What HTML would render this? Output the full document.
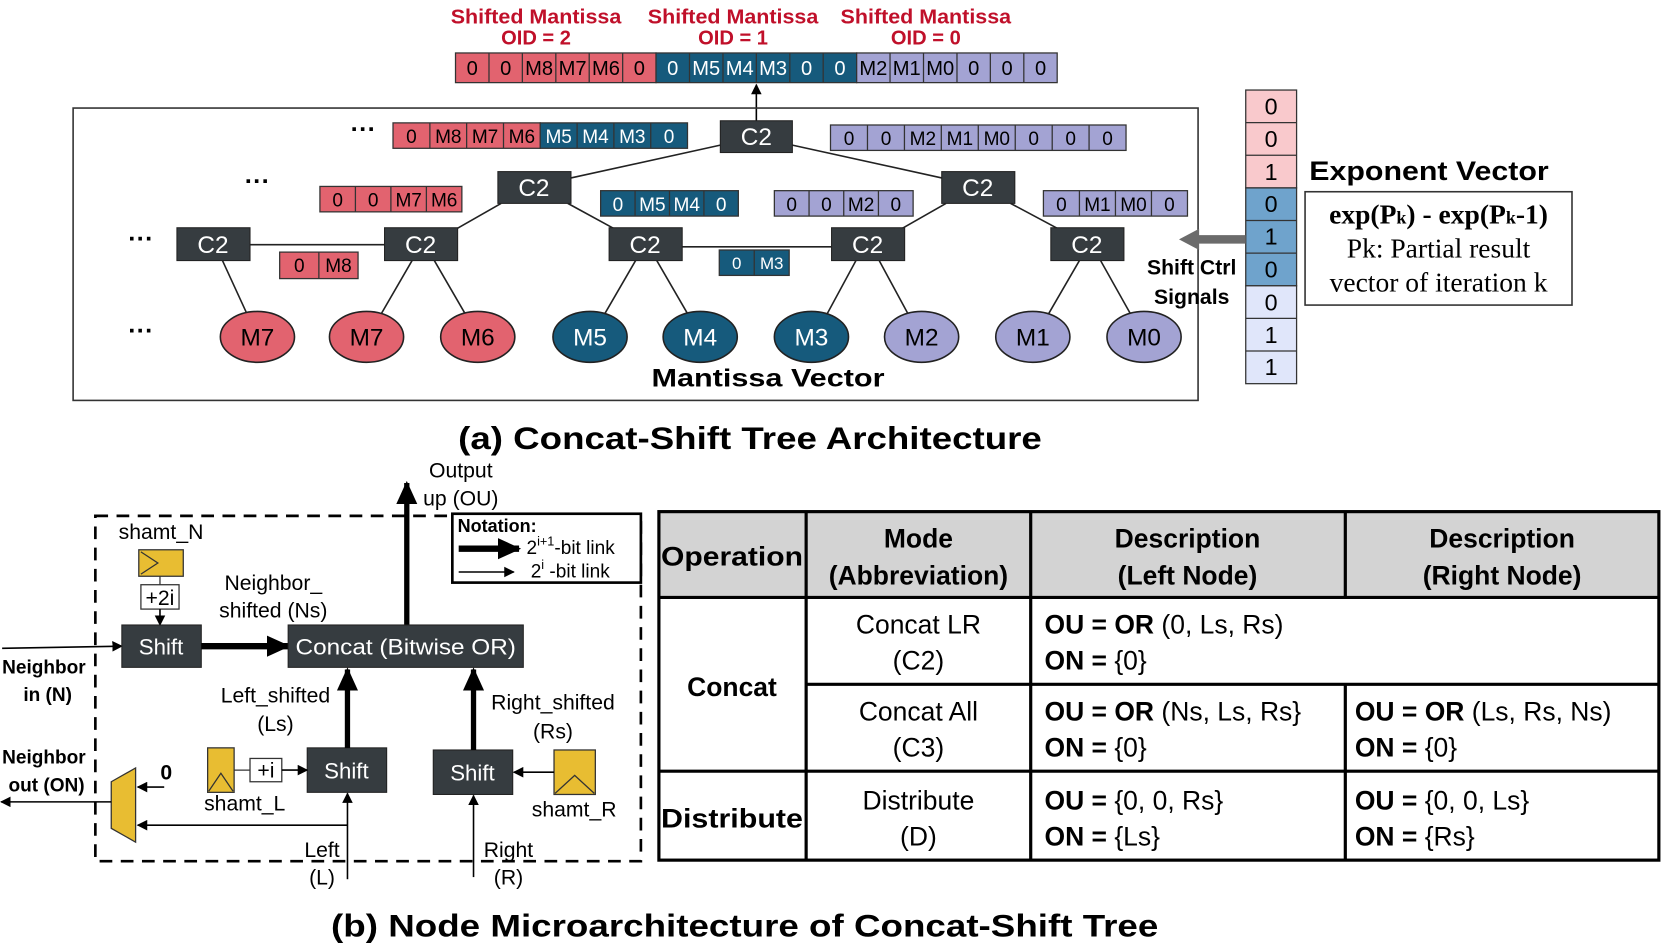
<!DOCTYPE html>
<html><head><meta charset="utf-8"><style>
html,body{margin:0;padding:0;background:#fff;}
svg{display:block;}
text{font-family:"Liberation Sans",Arial,sans-serif;}
.serif{font-family:"Liberation Serif","Times New Roman",serif;}
</style></head><body>
<svg width="1661" height="947" viewBox="0 0 1568 894" xmlns="http://www.w3.org/2000/svg">
<defs>
<marker id="ah" markerWidth="10" markerHeight="10" refX="9" refY="5" orient="auto" markerUnits="userSpaceOnUse"><path d="M0,0 L10,5 L0,10 z" fill="#000"/></marker>
<marker id="ahb" markerWidth="22" markerHeight="20" refX="20" refY="10" orient="auto" markerUnits="userSpaceOnUse"><path d="M0,0 L22,10 L0,20 z" fill="#000"/></marker>
</defs>

<!-- Top labels -->
<g fill="#c0102a" font-weight="bold" font-size="19" text-anchor="middle">
<text x="506" y="22" textLength="161" lengthAdjust="spacingAndGlyphs">Shifted Mantissa</text><text x="506" y="42">OID  = 2</text>
<text x="692" y="22" textLength="161" lengthAdjust="spacingAndGlyphs">Shifted Mantissa</text><text x="692" y="42">OID  = 1</text>
<text x="874" y="22" textLength="161" lengthAdjust="spacingAndGlyphs">Shifted Mantissa</text><text x="874" y="42">OID  = 0</text>
</g>

<!-- Top vector -->
<g stroke="#333" stroke-width="1.2" font-size="19" text-anchor="middle">
<rect x="430" y="50" width="189.3" height="28" fill="#e2636f"/>
<rect x="619.3" y="50" width="189.4" height="28" fill="#165a7c"/>
<rect x="808.7" y="50" width="189.3" height="28" fill="#a3a3d3"/>
<path d="M461.6,50v28M493.1,50v28M524.7,50v28M556.2,50v28M587.8,50v28M650.9,50v28M682.5,50v28M714,50v28M745.6,50v28M777.1,50v28M840.2,50v28M871.8,50v28M903.4,50v28M934.9,50v28M966.5,50v28"/>
</g>
<g font-size="19" text-anchor="middle">
<g fill="#000"><text x="445.8" y="71">0</text><text x="477.4" y="71">0</text><text x="508.9" y="71">M8</text><text x="540.5" y="71">M7</text><text x="572" y="71">M6</text><text x="603.6" y="71">0</text></g>
<g fill="#fff"><text x="635.1" y="71">0</text><text x="666.7" y="71">M5</text><text x="698.3" y="71">M4</text><text x="729.8" y="71">M3</text><text x="761.4" y="71">0</text><text x="792.9" y="71">0</text></g>
<g fill="#000"><text x="824.5" y="71">M2</text><text x="856" y="71">M1</text><text x="887.6" y="71">M0</text><text x="919.2" y="71">0</text><text x="950.7" y="71">0</text><text x="982.3" y="71">0</text></g>
</g>
<line x1="714" y1="116" x2="714" y2="80" stroke="#000" stroke-width="1.5" marker-end="url(#ah)"/>

<!-- Main box -->
<rect x="69" y="102" width="1062" height="276" fill="none" stroke="#333" stroke-width="1.5"/>

<!-- tree edges -->
<g stroke="#222" stroke-width="1.5">
<line x1="680" y1="137" x2="539" y2="168"/><line x1="748" y1="137" x2="889" y2="168"/>
<line x1="473" y1="192" x2="431" y2="216"/><line x1="536" y1="192" x2="580" y2="216"/>
<line x1="893" y1="192" x2="851" y2="216"/><line x1="954" y1="192" x2="999" y2="216"/>
<line x1="236" y1="231" x2="363" y2="231"/><line x1="644" y1="233" x2="785" y2="233"/>
<line x1="210" y1="246" x2="233" y2="296"/>
<line x1="389" y1="246" x2="360" y2="296"/><line x1="410" y1="246" x2="439" y2="296"/>
<line x1="600" y1="246" x2="571" y2="296"/><line x1="620" y1="246" x2="649" y2="296"/>
<line x1="808" y1="246" x2="781" y2="296"/><line x1="830" y1="246" x2="857" y2="296"/>
<line x1="1019" y1="246" x2="990" y2="296"/><line x1="1039" y1="246" x2="1067" y2="296"/>
</g>

<!-- C2 nodes -->
<g fill="#363c40" stroke="#222" stroke-width="1">
<rect x="680" y="114" width="68" height="30"/>
<rect x="470" y="162" width="69" height="30"/><rect x="889" y="162" width="69" height="30"/>
<rect x="167" y="215" width="69" height="31"/><rect x="363" y="215" width="69" height="31"/>
<rect x="575" y="215" width="69" height="31"/><rect x="785" y="215" width="69" height="31"/>
<rect x="992" y="215" width="69" height="31"/>
</g>
<g fill="#fff" font-size="23" text-anchor="middle">
<text x="714" y="137">C2</text><text x="504" y="185">C2</text><text x="923" y="185">C2</text>
<text x="201" y="239">C2</text><text x="397" y="239">C2</text><text x="609" y="239">C2</text>
<text x="819" y="239">C2</text><text x="1026" y="239">C2</text>
</g>

<!-- vectors inside -->
<g stroke="#333" stroke-width="1.2">
<rect x="371" y="116" width="139" height="24" fill="#e2636f"/><rect x="510" y="116" width="139" height="24" fill="#165a7c"/>
<rect x="784" y="118" width="279" height="24" fill="#a3a3d3"/>
<rect x="302" y="176" width="134" height="24" fill="#e2636f"/>
<rect x="567" y="180" width="130" height="24" fill="#165a7c"/>
<rect x="731" y="180" width="131" height="24" fill="#a3a3d3"/>
<rect x="985" y="180" width="136" height="24" fill="#a3a3d3"/>
<rect x="264" y="238" width="74" height="25" fill="#e2636f"/>
<rect x="679" y="236" width="66" height="24" fill="#165a7c"/>
<path d="M405.8,116v24M440.5,116v24M475.3,116v24M544.8,116v24M579.5,116v24M614.3,116v24
M818.9,118v24M853.8,118v24M888.6,118v24M923.5,118v24M958.4,118v24M993.3,118v24M1028.1,118v24
M335.5,176v24M369,176v24M402.5,176v24
M599.5,180v24M632,180v24M664.5,180v24
M763.75,180v24M796.5,180v24M829.25,180v24
M1019,180v24M1053,180v24M1087,180v24
M301,238v25M712,236v24"/>
</g>
<g font-size="18" text-anchor="middle">
<g fill="#000"><text x="388.4" y="135">0</text><text x="423.2" y="135">M8</text><text x="457.9" y="135">M7</text><text x="492.6" y="135">M6</text></g>
<g fill="#fff"><text x="527.4" y="135">M5</text><text x="562.2" y="135">M4</text><text x="596.9" y="135">M3</text><text x="631.6" y="135">0</text></g>
<g fill="#000"><text x="801.5" y="137">0</text><text x="836.4" y="137">0</text><text x="871.2" y="137">M2</text><text x="906.1" y="137">M1</text><text x="941" y="137">M0</text><text x="975.8" y="137">0</text><text x="1010.7" y="137">0</text><text x="1045.6" y="137">0</text></g>
<g fill="#000"><text x="318.8" y="195">0</text><text x="352.3" y="195">0</text><text x="385.8" y="195">M7</text><text x="419.3" y="195">M6</text></g>
<g fill="#fff"><text x="583.3" y="199">0</text><text x="615.8" y="199">M5</text><text x="648.3" y="199">M4</text><text x="680.8" y="199">0</text></g>
<g fill="#000"><text x="747.4" y="199">0</text><text x="780.1" y="199">0</text><text x="812.9" y="199">M2</text><text x="845.6" y="199">0</text>
<text x="1002" y="199">0</text><text x="1036" y="199">M1</text><text x="1070" y="199">M0</text><text x="1104" y="199">0</text>
<text x="282.5" y="257">0</text><text x="319.5" y="257">M8</text></g>
<g fill="#fff" font-size="16"><text x="695.5" y="254">0</text><text x="728.5" y="254">M3</text></g>
</g>

<!-- dots -->
<g font-size="24" font-weight="bold" text-anchor="middle">
<text x="343" y="130">···</text><text x="243" y="179">···</text><text x="133" y="233">···</text><text x="133" y="320">···</text>
</g>

<!-- leaves -->
<g stroke="#222" stroke-width="1.5">
<ellipse cx="243" cy="318" rx="35" ry="24" fill="#e2636f"/><ellipse cx="346" cy="318" rx="35" ry="24" fill="#e2636f"/><ellipse cx="451" cy="318" rx="35" ry="24" fill="#e2636f"/>
<ellipse cx="557" cy="318" rx="35" ry="24" fill="#165a7c"/><ellipse cx="661" cy="318" rx="35" ry="24" fill="#165a7c"/><ellipse cx="766" cy="318" rx="35" ry="24" fill="#165a7c"/>
<ellipse cx="870" cy="318" rx="35" ry="24" fill="#a3a3d3"/><ellipse cx="975" cy="318" rx="35" ry="24" fill="#a3a3d3"/><ellipse cx="1080" cy="318" rx="35" ry="24" fill="#a3a3d3"/>
</g>
<g font-size="23" text-anchor="middle">
<g fill="#000"><text x="243" y="326">M7</text><text x="346" y="326">M7</text><text x="451" y="326">M6</text></g>
<g fill="#fff"><text x="557" y="326">M5</text><text x="661" y="326">M4</text><text x="766" y="326">M3</text></g>
<g fill="#000"><text x="870" y="326">M2</text><text x="975" y="326">M1</text><text x="1080" y="326">M0</text></g>
</g>
<text x="725" y="365" font-size="24" font-weight="bold" text-anchor="middle" textLength="220" lengthAdjust="spacingAndGlyphs">Mantissa Vector</text>

<!-- Exponent vector -->
<g stroke="#333" stroke-width="1.2">
<rect x="1176" y="85" width="48" height="92.4" fill="#f9c9cc"/>
<rect x="1176" y="177.4" width="48" height="92.4" fill="#6fa3cc"/>
<rect x="1176" y="269.8" width="48" height="92.4" fill="#e0e6fa"/>
<path d="M1176,115.8h48M1176,146.6h48M1176,208.2h48M1176,239h48M1176,300.6h48M1176,331.4h48"/>
</g>
<g font-size="22" text-anchor="middle">
<text x="1200" y="108">0</text><text x="1200" y="139">0</text><text x="1200" y="170">1</text>
<text x="1200" y="200">0</text><text x="1200" y="231">1</text><text x="1200" y="262">0</text>
<text x="1200" y="293">0</text><text x="1200" y="324">1</text><text x="1200" y="354">1</text>
</g>
<path d="M1176,222 L1132,222 L1132,216 L1113,226 L1132,236 L1132,230 L1176,230 z" fill="#6b6b6b"/>
<g font-size="20" font-weight="bold" text-anchor="middle"><text x="1125" y="259">Shift Ctrl</text><text x="1125" y="287">Signals</text></g>
<text x="1236" y="170" font-size="25" font-weight="bold" textLength="226" lengthAdjust="spacingAndGlyphs">Exponent Vector</text>
<rect x="1232" y="181" width="252" height="107" fill="#fff" stroke="#333" stroke-width="1.5"/>
<g class="serif" font-size="26" text-anchor="middle">
<text x="1358" y="211" font-weight="bold" class="serif">exp(P<tspan font-size="17">k</tspan>) - exp(P<tspan font-size="17">k</tspan>-1)</text>
<text x="1358" y="243" class="serif">Pk: Partial result</text>
<text x="1358" y="275" class="serif">vector of iteration k</text>
</g>

<text x="708" y="424" font-size="30" font-weight="bold" text-anchor="middle" textLength="551" lengthAdjust="spacingAndGlyphs">(a) Concat-Shift Tree Architecture</text>

<!-- Part b -->
<rect x="90" y="487" width="515" height="326" fill="none" stroke="#000" stroke-width="2.5" stroke-dasharray="12,8"/>
<rect x="427" y="485" width="178" height="65" fill="#fff" stroke="#000" stroke-width="2.5"/>
<text x="432" y="502" font-size="17" font-weight="bold">Notation:</text>
<line x1="433" y1="518" x2="490" y2="518" stroke="#000" stroke-width="6" marker-end="url(#ahb)"/>
<text x="497" y="523" font-size="18">2<tspan font-size="12" dy="-8">i+1</tspan><tspan dy="8">-bit link</tspan></text>
<line x1="433" y1="540" x2="485" y2="540" stroke="#000" stroke-width="1.5" marker-end="url(#ah)"/>
<text x="501" y="545" font-size="18">2<tspan font-size="12" dy="-8">i</tspan><tspan dy="8"> -bit link</tspan></text>

<!-- output -->
<line x1="384" y1="590" x2="384" y2="456" stroke="#000" stroke-width="5" marker-end="url(#ahb)"/>
<g font-size="20" text-anchor="middle"><text x="435" y="451">Output</text><text x="435" y="477">up (OU)</text></g>

<!-- shamt_N -->
<text x="152" y="509" font-size="20" text-anchor="middle">shamt_N</text>
<rect x="131" y="519" width="42" height="25" fill="#e8bd32" stroke="#333" stroke-width="1.2"/>
<path d="M133,521 L149,531.5 L133,542" fill="none" stroke="#333" stroke-width="1.2"/>
<line x1="151" y1="544" x2="151" y2="552" stroke="#333" stroke-width="1.2"/>
<rect x="133" y="552" width="36" height="23" fill="#fff" stroke="#333" stroke-width="1.2"/>
<text x="151" y="571" font-size="20" text-anchor="middle">+2i</text>
<line x1="151" y1="575" x2="151" y2="590" stroke="#000" stroke-width="1.5" marker-end="url(#ah)"/>

<!-- Shift N & concat -->
<line x1="2" y1="612" x2="115" y2="610" stroke="#000" stroke-width="1.5" marker-end="url(#ah)"/>
<rect x="115" y="590" width="75" height="40" fill="#363c40" stroke="#222"/>
<text x="152" y="618" font-size="21" fill="#fff" text-anchor="middle">Shift</text>
<line x1="190" y1="610" x2="272" y2="610" stroke="#000" stroke-width="6" marker-end="url(#ahb)"/>
<rect x="272" y="590" width="222" height="40" fill="#363c40" stroke="#222"/>
<text x="383" y="618" font-size="21" fill="#fff" text-anchor="middle" textLength="208" lengthAdjust="spacingAndGlyphs">Concat (Bitwise OR)</text>
<g font-size="20" text-anchor="middle"><text x="258" y="557">Neighbor_</text><text x="258" y="583">shifted (Ns)</text></g>
<g font-size="18" font-weight="bold"><text x="2" y="636">Neighbor</text><text x="22" y="662">in (N)</text>
<text x="2" y="721">Neighbor</text><text x="8" y="747">out (ON)</text></g>

<!-- Left shift -->
<rect x="290" y="706" width="75" height="42" fill="#363c40" stroke="#222"/>
<text x="327" y="735" font-size="21" fill="#fff" text-anchor="middle">Shift</text>
<line x1="328" y1="706" x2="328" y2="632" stroke="#000" stroke-width="5" marker-end="url(#ahb)"/>
<g font-size="20" text-anchor="middle"><text x="260" y="663">Left_shifted</text><text x="260" y="690">(Ls)</text></g>
<rect x="196" y="706" width="25" height="42" fill="#e8bd32" stroke="#333" stroke-width="1.2"/>
<path d="M197,747 L208.5,730 L220,747" fill="none" stroke="#333" stroke-width="1.2"/>
<line x1="221" y1="727" x2="236" y2="727" stroke="#333" stroke-width="1.2"/>
<rect x="236" y="716" width="30" height="22" fill="#fff" stroke="#333" stroke-width="1.2"/>
<text x="251" y="734" font-size="20" text-anchor="middle">+i</text>
<line x1="266" y1="727" x2="290" y2="727" stroke="#000" stroke-width="1.5" marker-end="url(#ah)"/>
<text x="231" y="765" font-size="20" text-anchor="middle">shamt_L</text>

<!-- Right shift -->
<rect x="409" y="708" width="75" height="42" fill="#363c40" stroke="#222"/>
<text x="446" y="737" font-size="21" fill="#fff" text-anchor="middle">Shift</text>
<line x1="447" y1="708" x2="447" y2="632" stroke="#000" stroke-width="5" marker-end="url(#ahb)"/>
<g font-size="20" text-anchor="middle"><text x="522" y="670">Right_shifted</text><text x="522" y="697">(Rs)</text></g>
<rect x="523" y="708" width="39" height="42" fill="#e8bd32" stroke="#333" stroke-width="1.2"/>
<path d="M524,749 L542.5,732 L561,749" fill="none" stroke="#333" stroke-width="1.2"/>
<line x1="523" y1="729" x2="485" y2="729" stroke="#000" stroke-width="1.5" marker-end="url(#ah)"/>
<text x="542" y="771" font-size="20" text-anchor="middle">shamt_R</text>

<!-- inputs L R -->
<line x1="328" y1="830" x2="328" y2="749" stroke="#000" stroke-width="1.5" marker-end="url(#ah)"/>
<line x1="447" y1="828" x2="447" y2="751" stroke="#000" stroke-width="1.5" marker-end="url(#ah)"/>
<line x1="328" y1="779" x2="130" y2="779" stroke="#000" stroke-width="1.5" marker-end="url(#ah)"/>
<g font-size="20" text-anchor="middle"><text x="304" y="809">Left</text><text x="304" y="835">(L)</text>
<text x="480" y="809">Right</text><text x="480" y="835">(R)</text></g>

<!-- mux -->
<path d="M105,738 L128,725 L128,795 L105,782 z" fill="#e8bd32" stroke="#333" stroke-width="1.2"/>
<line x1="105" y1="757" x2="1" y2="757" stroke="#000" stroke-width="1.5" marker-end="url(#ah)"/>
<line x1="155" y1="743" x2="130" y2="743" stroke="#000" stroke-width="1.5" marker-end="url(#ah)"/>
<text x="157" y="736" font-size="20" font-weight="bold" text-anchor="middle">0</text>

<text x="703" y="884" font-size="30" font-weight="bold" text-anchor="middle" textLength="781" lengthAdjust="spacingAndGlyphs">(b) Node Microarchitecture of Concat-Shift Tree</text>

<!-- Table -->
<rect x="622" y="483" width="944" height="81" fill="#d3d3d3"/>
<g stroke="#000" stroke-width="3" fill="none">
<rect x="622" y="483" width="944" height="329"/>
<line x1="622" y1="564" x2="1566" y2="564"/>
<line x1="761" y1="646" x2="1566" y2="646"/>
<line x1="622" y1="728" x2="1566" y2="728"/>
<line x1="761" y1="483" x2="761" y2="812"/>
<line x1="973" y1="483" x2="973" y2="812"/>
<line x1="1270" y1="483" x2="1270" y2="564"/>
<line x1="1270" y1="646" x2="1270" y2="812"/>
</g>
<g font-size="25" text-anchor="middle" font-weight="bold">
<text x="691" y="534" textLength="134" lengthAdjust="spacingAndGlyphs">Operation</text>
<text x="867" y="517">Mode</text><text x="867" y="552">(Abbreviation)</text>
<text x="1121" y="517">Description</text><text x="1121" y="552">(Left Node)</text>
<text x="1418" y="517">Description</text><text x="1418" y="552">(Right Node)</text>
<text x="691" y="657">Concat</text>
<text x="691" y="781" textLength="134" lengthAdjust="spacingAndGlyphs">Distribute</text>
</g>
<g font-size="25" text-anchor="middle">
<text x="867" y="598">Concat LR</text><text x="867" y="632">(C2)</text>
<text x="867" y="680">Concat All</text><text x="867" y="714">(C3)</text>
<text x="867" y="764">Distribute</text><text x="867" y="798">(D)</text>
</g>
<g font-size="25">
<text x="986" y="598"><tspan font-weight="bold">OU = OR</tspan> (0, Ls, Rs)</text>
<text x="986" y="632"><tspan font-weight="bold">ON =</tspan> {0}</text>
<text x="986" y="680"><tspan font-weight="bold">OU = OR</tspan> (Ns, Ls, Rs}</text>
<text x="986" y="714"><tspan font-weight="bold">ON =</tspan> {0}</text>
<text x="1279" y="680"><tspan font-weight="bold">OU = OR</tspan> (Ls, Rs, Ns)</text>
<text x="1279" y="714"><tspan font-weight="bold">ON =</tspan> {0}</text>
<text x="986" y="764"><tspan font-weight="bold">OU =</tspan> {0, 0, Rs}</text>
<text x="986" y="798"><tspan font-weight="bold">ON =</tspan> {Ls}</text>
<text x="1279" y="764"><tspan font-weight="bold">OU =</tspan> {0, 0, Ls}</text>
<text x="1279" y="798"><tspan font-weight="bold">ON =</tspan> {Rs}</text>
</g>
</svg>
</body></html>
